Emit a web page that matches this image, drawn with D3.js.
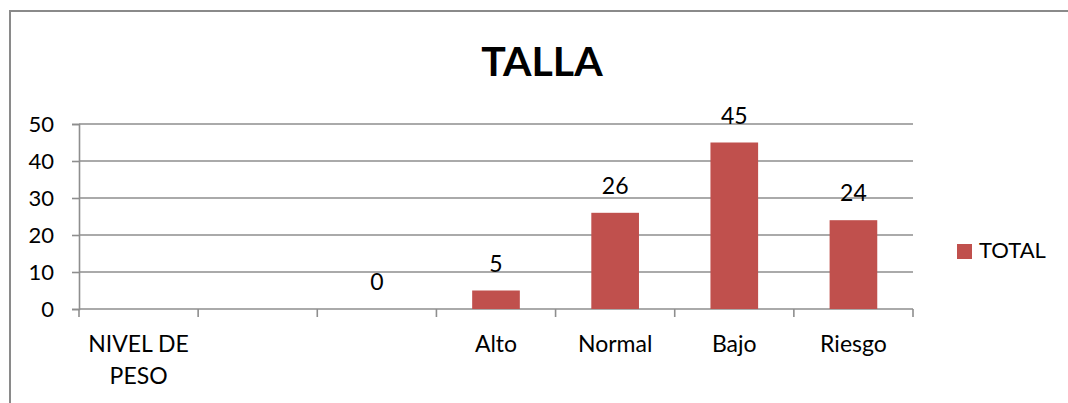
<!DOCTYPE html>
<html>
<head>
<meta charset="utf-8">
<script src="https://cdn.jsdelivr.net/npm/d3@7"></script>
<style>
  body { margin: 0; background: #fff; }
  svg { display: block; font-family: Lato, "Open Sans", sans-serif; }
</style>
</head>
<body>
<svg id="chart" width="1068" height="403"></svg>
<script>
// chart data
var categories = ['NIVEL DE PESO', '', '', 'Alto', 'Normal', 'Bajo', 'Riesgo'];
var totals = [null, null, 0, 5, 26, 45, 24];
var yTicks = [0, 10, 20, 30, 40, 50];
var seriesName = 'TOTAL';
var title = 'TALLA';

var svg = d3.select('#chart');
var barColor = '#c0504d';
var gridColor = '#8e8e8e';

// outer frame of the chart (runs off the right and bottom edge)
svg.append('rect')
  .attr('x', 10).attr('y', 11)
  .attr('width', 1080).attr('height', 420)
  .attr('fill', 'none')
  .attr('stroke', '#8a8a8a')
  .attr('stroke-width', 2);

var x = d3.scaleBand()
  .domain(d3.range(categories.length))
  .range([79, 913])
  .paddingInner(0.6)
  .paddingOuter(0.3);

var y = d3.scaleLinear()
  .domain([0, 50])
  .range([309, 124]);

// title
svg.append('text')
  .attr('x', 542).attr('y', 76)
  .attr('text-anchor', 'middle')
  .attr('font-size', 41)
  .attr('font-weight', 'bold')
  .text(title);

// horizontal grid + y axis
var yAxis = svg.append('g')
  .attr('transform', 'translate(79,0)')
  .call(d3.axisLeft(y).tickValues(yTicks).tickSize(7).tickPadding(18));
yAxis.select('.domain').attr('stroke', gridColor).attr('stroke-width', 1.6);
yAxis.selectAll('.tick line').attr('stroke', gridColor).attr('stroke-width', 1.6);
yAxis.selectAll('.tick text')
  .attr('font-size', 22)
  .attr('font-family', 'Lato, sans-serif')
  .attr('fill', '#000');

svg.append('g')
  .selectAll('line')
  .data(yTicks.filter(d => d > 0))
  .join('line')
    .attr('x1', 79).attr('x2', 913)
    .attr('y1', d => y(d)).attr('y2', d => y(d))
    .attr('stroke', gridColor)
    .attr('stroke-width', 1.6);

// category axis with ticks between bands
var step = x.step();
var x0 = x.range()[0];
svg.append('line')
  .attr('x1', x0).attr('x2', 913)
  .attr('y1', y(0)).attr('y2', y(0))
  .attr('stroke', gridColor).attr('stroke-width', 1.6);
svg.append('g')
  .selectAll('line')
  .data(d3.range(categories.length + 1))
  .join('line')
    .attr('x1', i => x0 + i * step).attr('x2', i => x0 + i * step)
    .attr('y1', y(0)).attr('y2', y(0) + 8)
    .attr('stroke', gridColor).attr('stroke-width', 1.6);

// category labels (wrapped like the original)
var catLabels = svg.append('g')
  .selectAll('text')
  .data(categories.map((c, i) => ({ c: c, i: i })))
  .join('text')
    .attr('x', d => x(d.i) + x.bandwidth() / 2)
    .attr('y', 352)
    .attr('text-anchor', 'middle')
    .attr('font-size', 23);
catLabels.each(function (d) {
  var words = d.c === 'NIVEL DE PESO' ? ['NIVEL DE', 'PESO'] : [d.c];
  d3.select(this).selectAll('tspan')
    .data(words)
    .join('tspan')
      .attr('x', x(d.i) + x.bandwidth() / 2)
      .attr('dy', (w, k) => k === 0 ? 0 : 32)
      .text(w => w);
});

// bars
var data = totals.map((v, i) => ({ i: i, v: v })).filter(d => d.v !== null);
svg.append('g')
  .selectAll('rect')
  .data(data)
  .join('rect')
    .attr('x', d => x(d.i))
    .attr('width', x.bandwidth())
    .attr('y', d => y(d.v))
    .attr('height', d => y(0) - y(d.v))
    .attr('fill', barColor);

// data labels
svg.append('g')
  .selectAll('text')
  .data(data)
  .join('text')
    .attr('x', d => x(d.i) + x.bandwidth() / 2)
    .attr('y', d => y(d.v) - 19)
    .attr('text-anchor', 'middle')
    .attr('font-size', 23)
    .text(d => d.v);

// legend
svg.append('rect')
  .attr('x', 957).attr('y', 244)
  .attr('width', 15).attr('height', 15)
  .attr('fill', barColor);
svg.append('text')
  .attr('x', 979).attr('y', 258)
  .attr('font-size', 22)
  .text(seriesName);
</script>
</body>
</html>
